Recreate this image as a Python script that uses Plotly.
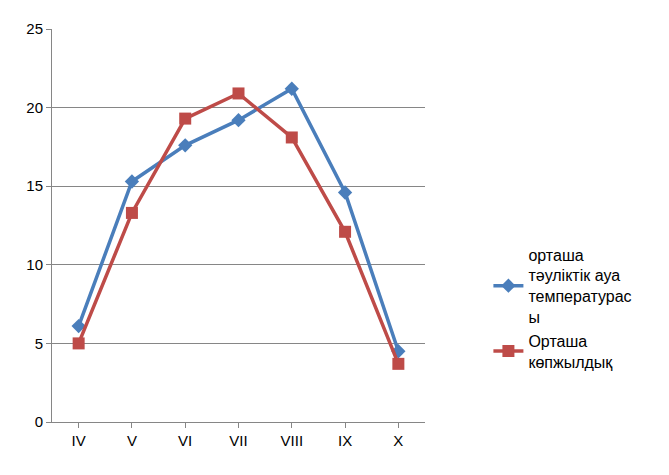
import plotly.graph_objects as go

months = ["IV", "V", "VI", "VII", "VIII", "IX", "X"]
air_temp = [6.1, 15.3, 17.6, 19.2, 21.2, 14.6, 4.5]
long_term = [5.0, 13.3, 19.3, 20.9, 18.1, 12.1, 3.7]

fig = go.Figure()
fig.add_trace(go.Scatter(x=months, y=air_temp, mode="lines+markers",
    name="орташа<br>тәуліктік ауа<br>температурас<br>ы",
    line=dict(color="#4A7EBB", width=3.5), marker=dict(symbol="diamond", size=11, color="#4A7EBB")))
fig.add_trace(go.Scatter(x=months, y=long_term, mode="lines+markers",
    name="Орташа<br>көпжылдық",
    line=dict(color="#BE4B48", width=3.5), marker=dict(symbol="square", size=12, color="#BE4B48")))

fig.update_layout(
    width=669, height=475, plot_bgcolor="white", paper_bgcolor="white",
    margin=dict(l=44, r=252, t=16, b=61),
    font=dict(family="Liberation Sans", size=15, color="black"),
    xaxis=dict(showline=True, linecolor="#868686", ticks="outside", ticklen=5, tickcolor="#868686",
               showgrid=False, range=[-0.5, 6.5]),
    yaxis=dict(range=[0, 25], dtick=5, showline=True, linecolor="#868686", ticks="outside", ticklen=5,
               tickcolor="#868686", gridcolor="#868686", gridwidth=1, zeroline=False),
    legend=dict(x=1.17, y=0.29, yanchor="middle", xanchor="left", font=dict(size=16),
                tracegroupgap=14),
)
fig.write_html("out.html")
